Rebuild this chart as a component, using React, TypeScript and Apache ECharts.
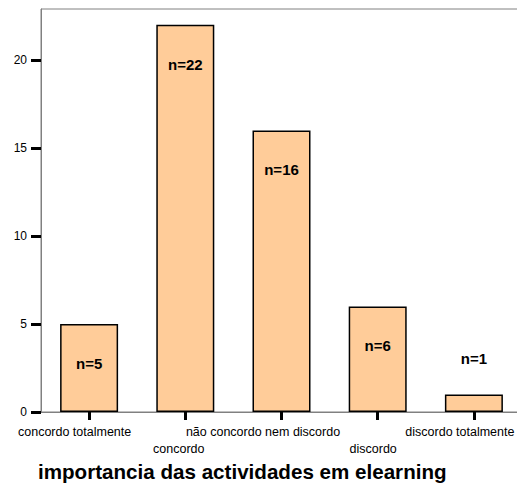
import React, { useEffect, useRef } from "react";
import * as echarts from "echarts";

const categories = [
  "concordo totalmente",
  "concordo",
  "não concordo nem discordo",
  "discordo",
  "discordo totalmente",
];
const counts = [5, 22, 16, 6, 1];
const yTicks = [0, 5, 10, 15, 20];
const axisTitle = "importancia das actividades em elearning";

// style: label shift to the left (px) per category
const labelShift = [14.5, 6.5, 18.5, 4.5, 14];

export default function App() {
  const ref = useRef<HTMLDivElement>(null);
  useEffect(() => {
    if (!ref.current) return;
    const chart = echarts.init(ref.current, null, { renderer: "svg" });
    const font = "Arial, 'Liberation Sans', sans-serif";
    const rich: Record<string, any> = {};
    categories.forEach((_, i) => {
      rich["s" + i] = {
        fontSize: 12.5,
        fontFamily: font,
        color: "#000",
        lineHeight: 17,
        padding: [0, labelShift[i] * 2, 0, 0],
      };
    });
    chart.setOption({
      animation: false,
      backgroundColor: "#fff",
      title: {
        text: axisTitle,
        left: 38,
        top: 461,
        padding: 0,
        textStyle: { fontSize: 20.6, fontWeight: "bold", fontFamily: font, color: "#000" },
      },
      grid: {
        left: 41,
        right: -5,
        top: 9,
        bottom: 75,
        outerBoundsMode: "none",
        containLabel: false,
        show: true,
        borderColor: "#808080",
        borderWidth: 1,
        backgroundColor: "transparent",
      },
      xAxis: {
        type: "category",
        data: categories,
        axisLine: { lineStyle: { color: "#808080", width: 1 } },
        axisTick: {
          show: true,
          alignWithLabel: true,
          length: 8,
          lineStyle: { color: "#000", width: 3 },
        },
        axisLabel: {
          interval: 0,
          margin: 11,
          lineHeight: 17,
          fontSize: 12.5,
          fontFamily: font,
          color: "#000",
          hideOverlap: false,
          formatter: (v: string, i: number) =>
            (i % 2 === 1 ? "\n" : "") + "{s" + i + "|" + v + "}",
          rich,
        },
      },
      yAxis: {
        type: "value",
        min: 0,
        max: 22.9,
        interval: 5,
        splitLine: { show: false },
        axisLine: { show: true, lineStyle: { color: "#808080", width: 1 } },
        axisTick: {
          show: true,
          length: 10,
          customValues: yTicks,
          lineStyle: { color: "#000", width: 3 },
        },
        axisLabel: {
          customValues: yTicks,
          margin: 14,
          fontSize: 12,
          fontFamily: font,
          color: "#000",
        },
      },
      series: [
        {
          type: "bar",
          barWidth: 58,
          data: counts.map((v) => ({
            value: v,
            label:
              v < 3
                ? { position: "top", distance: 28 }
                : { position: "insideTop", distance: 32 },
          })),
          itemStyle: { color: "#FFCC99", borderColor: "#000", borderWidth: 1.5 },
          label: {
            show: true,
            formatter: (p: any) => "n=" + p.value,
            fontSize: 15,
            fontWeight: "bold",
            fontFamily: font,
            color: "#000",
          },
        },
      ],
    });
    return () => chart.dispose();
  }, []);
  return (
    <div
      ref={ref}
      style={{ position: "fixed", left: 0, top: 0, width: 517, height: 487 }}
    />
  );
}
